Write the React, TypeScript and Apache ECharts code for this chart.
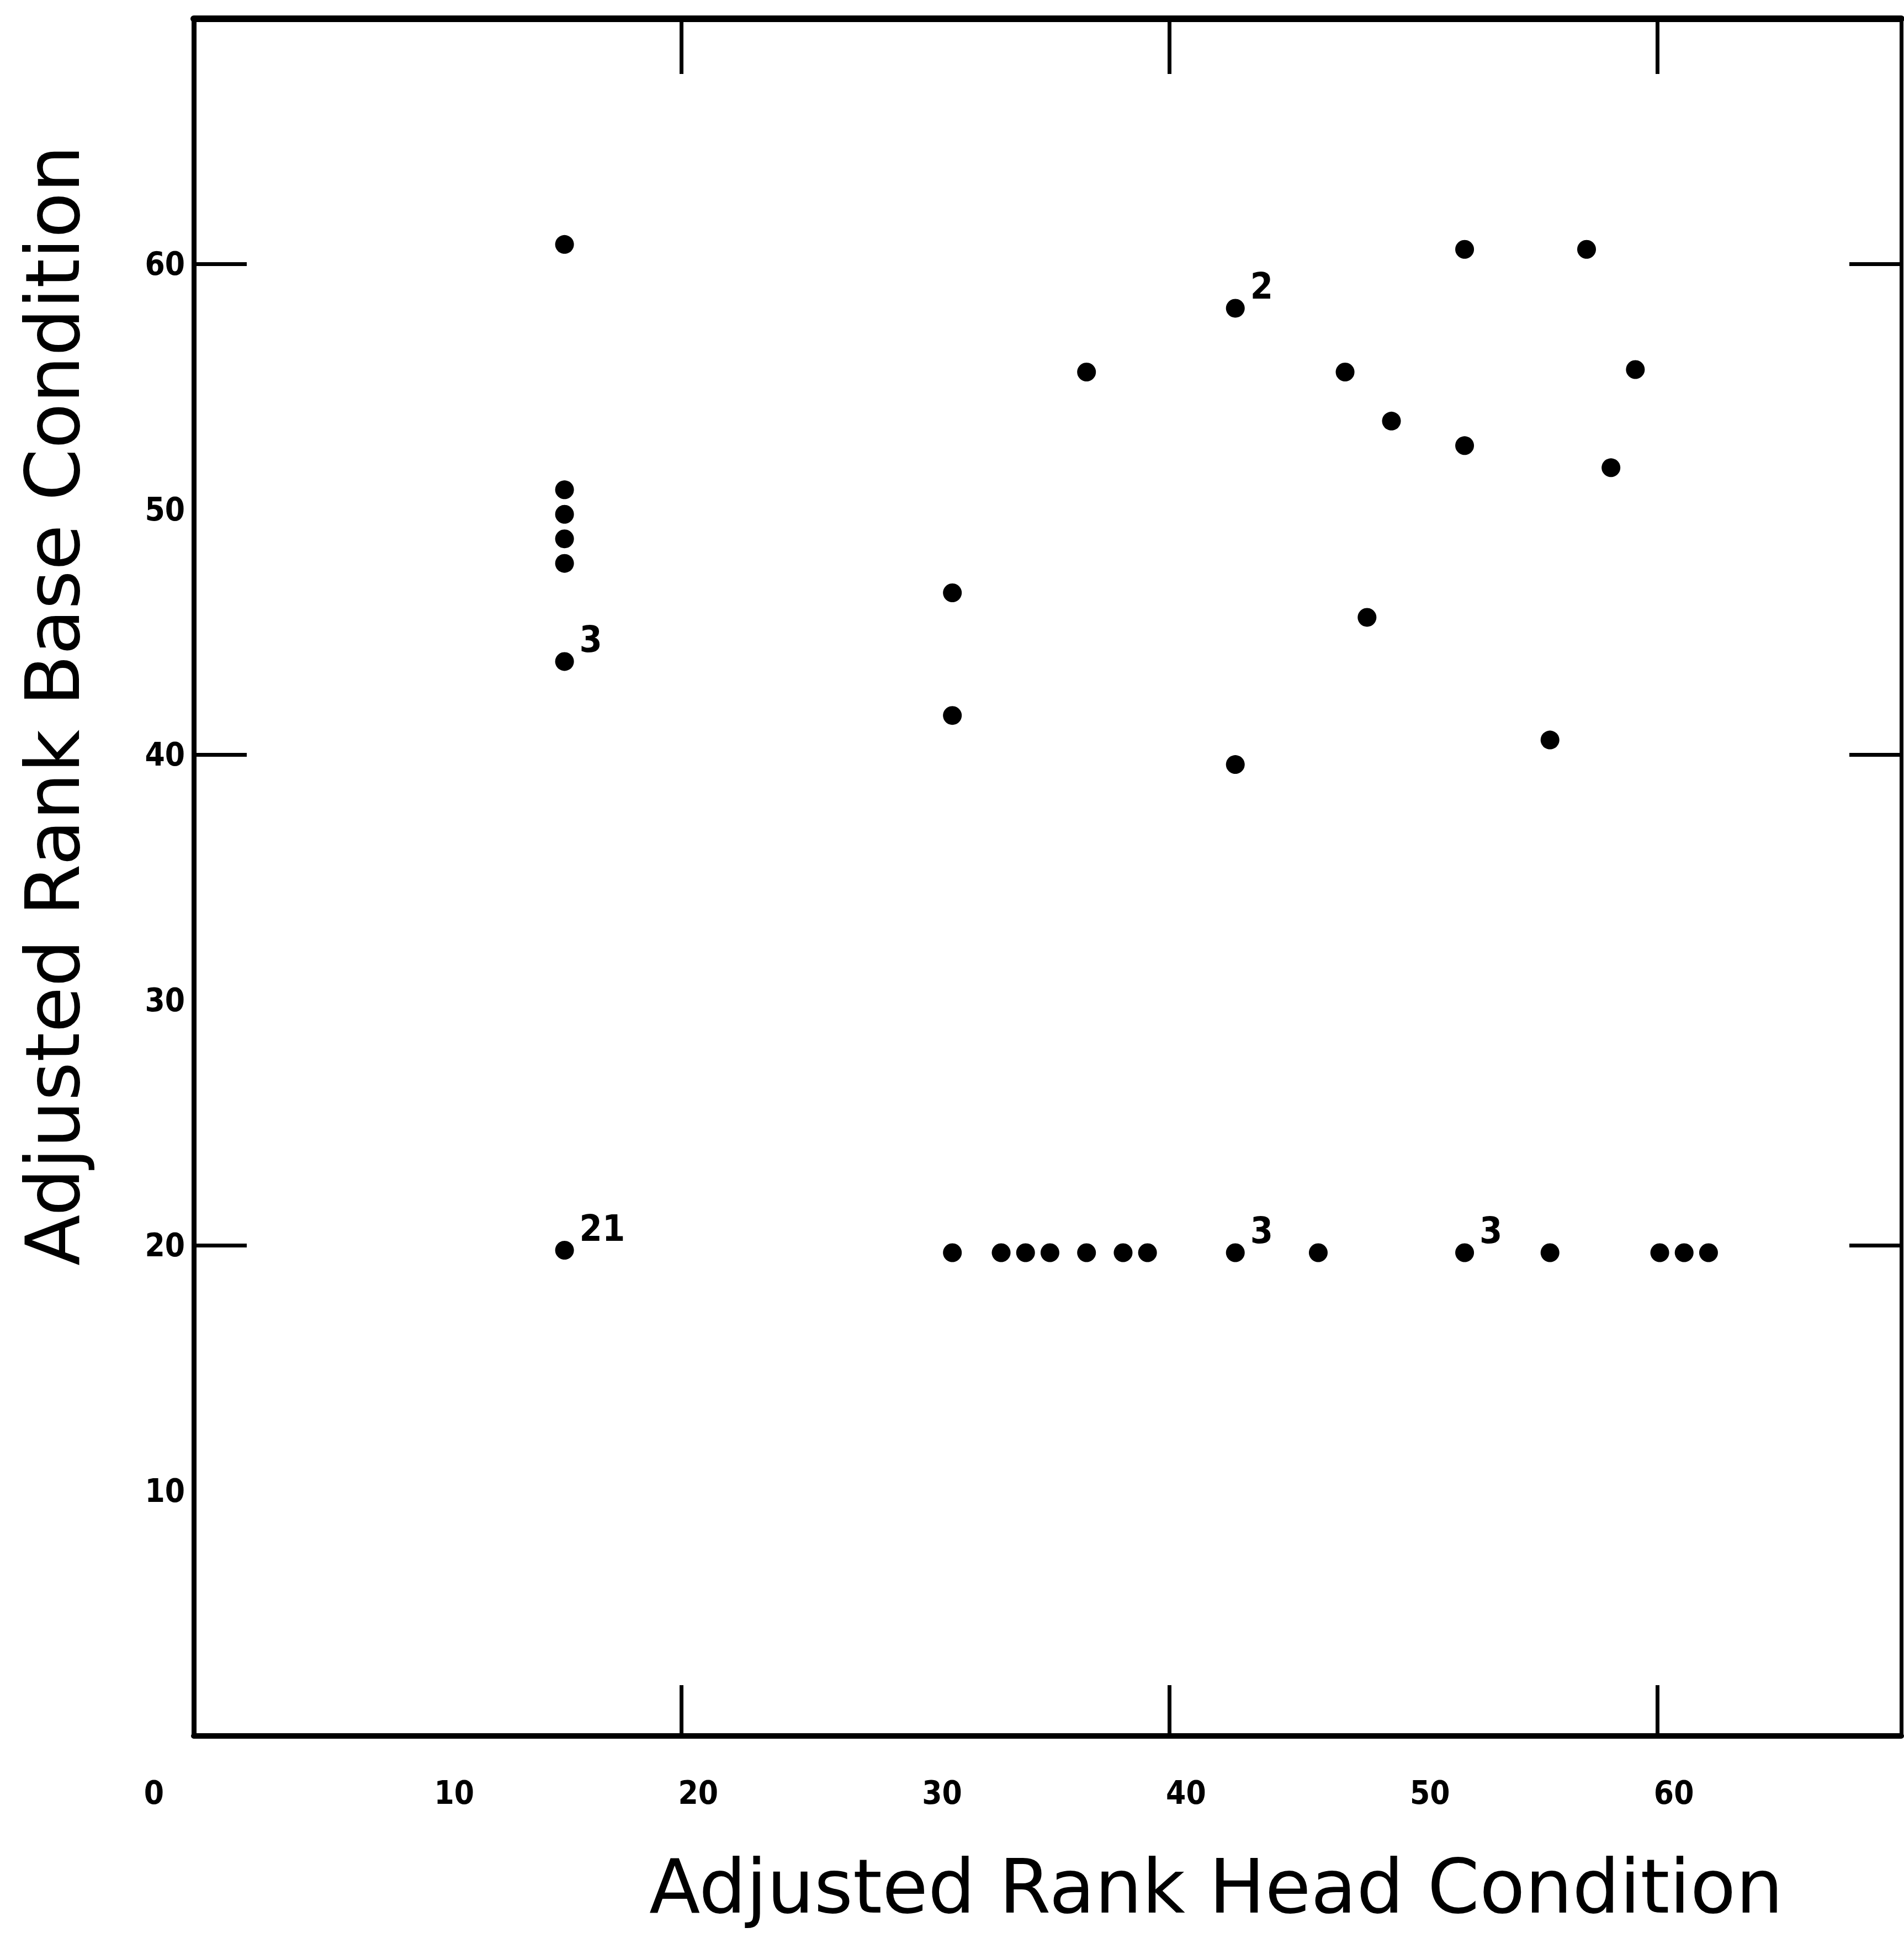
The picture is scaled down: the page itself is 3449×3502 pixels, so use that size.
import React, { useEffect, useRef } from "react";
import * as echarts from "echarts";

// Adjusted rank under the head condition (x) and base condition (y)
const headRank = [
  15.2, 15.2, 15.2, 15.2, 15.2, 15.2, 15.2,
  31.1, 31.1, 31.1, 33.1, 34.1, 35.1, 36.6, 36.6, 38.1, 39.1,
  42.7, 42.7, 42.7, 46.1, 47.2, 48.1, 49.1,
  52.1, 52.1, 52.1, 55.6, 55.6, 57.1, 58.1, 59.1, 60.1, 61.1, 62.1,
];
const baseRank = [
  60.8, 50.8, 49.8, 48.8, 47.8, 43.8, 19.8,
  46.6, 41.6, 19.7, 19.7, 19.7, 19.7, 55.6, 19.7, 19.7, 19.7,
  58.2, 39.6, 19.7, 19.7, 55.6, 45.6, 53.6,
  60.6, 52.6, 19.7, 40.6, 19.7, 60.6, 51.7, 55.7, 19.7, 19.7, 19.7,
];
// Number of coincident cases printed beside a point ("" = single case)
const tieLabel = [
  "", "", "", "", "", "3", "21",
  "", "", "", "", "", "", "", "", "", "",
  "2", "", "3", "", "", "", "",
  "", "", "3", "", "", "", "", "", "", "", "",
];

const xTickLabels = [0, 10, 20, 30, 40, 50, 60];
const yTickLabels = [10, 20, 30, 40, 50, 60];
const tickMarks = [20, 40, 60];

const xTitle = "Adjusted Rank Head Condition";
const yTitle = "Adjusted Rank Base Condition";

const W = 3449;
const H = 3502;

const NUM_FONT = "'DejaVu Sans Condensed', 'Liberation Sans Narrow', 'DejaVu Sans'";

export default function App() {
  const ref = useRef<HTMLDivElement>(null);

  useEffect(() => {
    if (!ref.current) return;
    const chart = echarts.init(ref.current, null, { renderer: "svg" });

    const numFont = {
      color: "#000",
      fontSize: 58,
      fontWeight: "bold" as const,
      fontFamily: NUM_FONT,
    };
    const frame = { color: "#000", width: 9 };
    const tickStyle = { color: "#000", width: 7 };

    const data = headRank.map((x, i) => {
      const lbl = tieLabel[i];
      return lbl
        ? { value: [x, baseRank[i]], label: { show: true, formatter: lbl } }
        : { value: [x, baseRank[i]] };
    });

    const option: any = {
      animation: false,
      backgroundColor: "#ffffff",
      grid: { left: 351, top: 34, width: 3093, height: 3111, containLabel: false },
      xAxis: [
        {
          type: "value",
          position: "bottom",
          min: 0,
          max: 70,
          interval: 10,
          axisLine: { show: true, onZero: false, lineStyle: { ...frame, width: 10 } },
          axisTick: {
            show: true,
            inside: true,
            length: 92,
            lineStyle: tickStyle,
            customValues: tickMarks,
          },
          axisLabel: {
            show: true,
            customValues: xTickLabels,
            margin: 74,
            ...numFont,
            formatter: (v: number) => (v === 0 ? "{z|0}" : "{n|" + v + "}"),
            rich: {
              z: { ...numFont, padding: [0, 144, 0, 0] },
              n: { ...numFont, padding: [0, 0, 0, 60] },
            },
          },
          splitLine: { show: false },
        },
        {
          type: "value",
          position: "top",
          min: 0,
          max: 70,
          interval: 10,
          axisLine: { show: true, onZero: false, lineStyle: { ...frame, width: 12 } },
          axisTick: {
            show: true,
            inside: true,
            length: 100,
            lineStyle: tickStyle,
            customValues: tickMarks,
          },
          axisLabel: { show: false },
          splitLine: { show: false },
        },
      ],
      yAxis: [
        {
          type: "value",
          position: "left",
          min: 0,
          max: 70,
          interval: 10,
          axisLine: { show: true, onZero: false, lineStyle: frame },
          axisTick: {
            show: true,
            inside: true,
            length: 96,
            lineStyle: tickStyle,
            customValues: tickMarks,
          },
          axisLabel: {
            show: true,
            customValues: yTickLabels,
            margin: 16,
            ...numFont,
          },
          splitLine: { show: false },
        },
        {
          type: "value",
          position: "right",
          min: 0,
          max: 70,
          interval: 10,
          axisLine: { show: true, onZero: false, lineStyle: { ...frame, width: 7 } },
          axisTick: {
            show: true,
            inside: true,
            length: 94,
            lineStyle: tickStyle,
            customValues: tickMarks,
          },
          axisLabel: { show: false },
          splitLine: { show: false },
        },
      ],
      series: [
        {
          type: "scatter",
          xAxisIndex: 0,
          yAxisIndex: 0,
          symbol: "circle",
          symbolSize: 34,
          itemStyle: { color: "#000", opacity: 1 },
          label: {
            show: false,
            position: "right",
            distance: 10,
            offset: [0, -40],
            color: "#000",
            fontSize: 66,
            fontWeight: "bold",
            fontFamily: NUM_FONT,
          },
          data,
        },
      ],
      graphic: [
        {
          type: "text",
          x: 2203,
          y: 3418,
          style: {
            text: xTitle,
            fill: "#000",
            fontSize: 135,
            fontFamily: "DejaVu Sans",
            align: "center",
            verticalAlign: "middle",
          },
        },
        {
          type: "text",
          x: 96,
          y: 1278,
          rotation: Math.PI / 2,
          style: {
            text: yTitle,
            fill: "#000",
            fontSize: 135,
            fontFamily: "DejaVu Sans",
            align: "center",
            verticalAlign: "middle",
          },
        },
      ],
    };

    chart.setOption(option);
    return () => chart.dispose();
  }, []);

  return (
    <div
      ref={ref}
      style={{ position: "absolute", left: 0, top: 0, width: W, height: H, background: "#fff" }}
    />
  );
}
